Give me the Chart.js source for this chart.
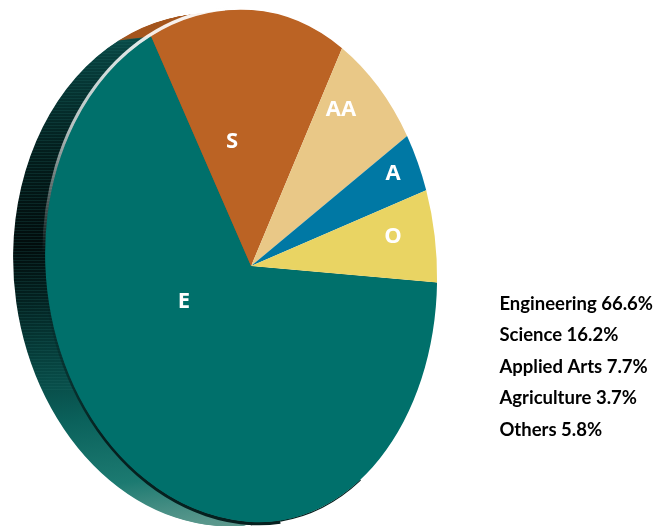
<!DOCTYPE html>
<html>
<head>
<meta charset="utf-8">
<script src="https://cdn.jsdelivr.net/npm/chart.js@4/dist/chart.umd.min.js"></script>
<style>
  html, body { margin: 0; padding: 0; background: #ffffff; }
  canvas { display: block; }
</style>
</head>
<body>
<canvas id="pie" width="658" height="526"></canvas>
<script>
const categories = ['Engineering', 'Science', 'Applied Arts', 'Agriculture', 'Others'];
const shares = [66.6, 16.2, 7.7, 3.7, 5.8];
const sliceLetters = ['E', 'S', 'AA', 'A', 'O'];
const sliceColors = ['#00706b', '#bb6324', '#e9c887', '#0078a4', '#e9d463'];

// Label anchor points, picture pixels
const LETTER_POS = [[184, 302], [232, 142], [341, 110], [393, 174], [393, 237]];

// The face is a lopsided, slightly tilted ellipse: each half gets its own width
const FACE = { left: 206, right: 186, height: 256, tilt: 0.06 };
const RIM = { dx: -32, dy: 4, steps: 32 };
const LEGEND_SHIFT = 5;

const tiltedPie = {
  id: 'tiltedPie',
  afterLayout(chart) {
    // Legend sits closer to the right edge than its padding allows
    chart.legend.left += LEGEND_SHIFT;
    chart.legend.right += LEGEND_SHIFT;
  },
  beforeDatasetsDraw(chart) {
    const ctx = chart.ctx;
    const arcs = chart.getDatasetMeta(0).data;
    const { x: cx, y: cy, outerRadius: r } = arcs[0];

    const eachHalf = (ox, oy, paint) => {
      [[-1, FACE.left], [1, FACE.right]].forEach(([side, width]) => {
        const sx = width / r;
        ctx.save();
        ctx.beginPath();
        // 1px overlap so no seam shows down the middle
        ctx.rect(side < 0 ? 0 : cx + ox, 0, side < 0 ? cx + ox + 1 : chart.width, chart.height);
        ctx.clip();
        ctx.translate(cx + ox, cy + oy);
        ctx.transform(sx, FACE.tilt * sx, 0, FACE.height / r, 0, 0);
        ctx.translate(-cx, -cy);
        paint();
        ctx.restore();
      });
    };

    // Side wall
    const wall = ctx.createLinearGradient(0, cy - r, 0, cy + r);
    wall.addColorStop(0, '#0e5f5a');
    wall.addColorStop(0.1, '#07403e');
    wall.addColorStop(0.3, '#031d1c');
    wall.addColorStop(0.48, '#020c0c');
    wall.addColorStop(0.58, '#03201f');
    wall.addColorStop(0.7, '#06403d');
    wall.addColorStop(0.82, '#0b625c');
    wall.addColorStop(0.93, '#1c7a71');
    wall.addColorStop(1, '#5b988d');

    for (let i = RIM.steps; i > 0; i--) {
      const ox = RIM.dx * i / RIM.steps;
      const oy = RIM.dy * i / RIM.steps;
      [1, 0].forEach(index => {
        const a = arcs[index];
        eachHalf(ox, oy, () => {
          ctx.fillStyle = index === 0 ? wall : '#a5561f';
          ctx.beginPath();
          ctx.moveTo(cx, cy);
          ctx.arc(cx, cy, r, a.startAngle, a.endAngle);
          ctx.closePath();
          ctx.fill();
        });
      });
    }

    // Fine banding on the dark part of the wall
    ctx.save();
    ctx.globalCompositeOperation = 'source-atop';
    ctx.fillStyle = 'rgba(30,110,104,0.22)';
    for (let y = 38; y < 390; y += 3) {
      ctx.fillRect(0, y, cx - 60, 1);
    }
    ctx.restore();

    // Pale highlight on the upper left edge, thinning over the top
    const shine = ctx.createLinearGradient(0, cy - r, 0, cy);
    shine.addColorStop(0, 'rgba(255,255,255,0.95)');
    shine.addColorStop(0.5, 'rgba(255,255,255,0.7)');
    shine.addColorStop(1, 'rgba(255,255,255,0)');
    eachHalf(0, 0, () => {
      ctx.strokeStyle = shine;
      ctx.lineWidth = 3;
      ctx.beginPath();
      ctx.arc(cx, cy, r + 1, Math.PI, Math.PI * 1.46);
      ctx.stroke();
      ctx.lineWidth = 1.5;
      ctx.beginPath();
      ctx.arc(cx, cy, r + 0.5, Math.PI * 1.46, Math.PI * 1.72);
      ctx.stroke();
    });

    // Dark edge along the bottom, fading out up the left side
    const edge = ctx.createLinearGradient(0, cy + r * 0.15, 0, cy + r * 0.7);
    edge.addColorStop(0, 'rgba(6,32,31,0)');
    edge.addColorStop(1, 'rgba(6,32,31,1)');
    eachHalf(0, 0, () => {
      ctx.strokeStyle = edge;
      ctx.lineWidth = 2.5;
      ctx.beginPath();
      ctx.arc(cx, cy, r + 1, Math.PI * 0.45, Math.PI * 0.95);
      ctx.stroke();
      ctx.lineWidth = 1;
      ctx.beginPath();
      ctx.arc(cx, cy, r + 0.3, Math.PI * 0.3, Math.PI * 0.45);
      ctx.stroke();
    });

    // Faces
    eachHalf(0, 0, () => arcs.forEach(a => a.draw(ctx)));

    // Letters on the slices
    ctx.save();
    ctx.fillStyle = '#ffffff';
    ctx.font = '700 22px "Open Sans"';
    ctx.textAlign = 'center';
    ctx.textBaseline = 'middle';
    sliceLetters.forEach((t, i) => ctx.fillText(t, LETTER_POS[i][0], LETTER_POS[i][1]));
    ctx.restore();
    return false;
  }
};

new Chart(document.getElementById('pie'), {
  type: 'pie',
  data: {
    labels: categories,
    datasets: [{ data: shares, backgroundColor: sliceColors, borderWidth: 0 }]
  },
  plugins: [tiltedPie],
  options: {
    responsive: false,
    animation: false,
    rotation: 91.2,
    layout: { padding: { top: 80, bottom: 74, left: 30 } },
    plugins: {
      tooltip: { enabled: false },
      legend: {
        position: 'right',
        align: 'end',
        labels: {
          boxWidth: 0,
          padding: 13,
          color: '#111111',
          font: { family: 'Lato', weight: 'bold', size: 18.5 },
          generateLabels: () => categories.map((c, i) => ({
            text: c + ' ' + shares[i].toFixed(1) + '%',
            fillStyle: 'transparent',
            strokeStyle: 'transparent',
            lineWidth: 0,
            index: i
          }))
        }
      }
    }
  }
});
</script>
</body>
</html>
